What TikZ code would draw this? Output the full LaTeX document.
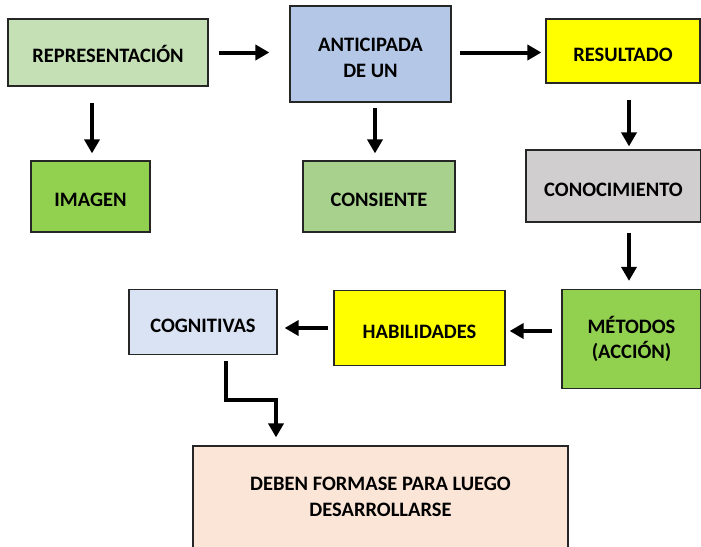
\documentclass[tikz,border=0pt]{standalone}
\usepackage{fontspec}
\setmainfont{Carlito}
\usetikzlibrary{arrows.meta}

\definecolor{verdeclaro}{HTML}{C5E0B4}
\definecolor{azulclaro}{HTML}{B4C7E7}
\definecolor{amarillo}{HTML}{FFFF00}
\definecolor{verde}{HTML}{92D050}
\definecolor{verdemedio}{HTML}{A9D18E}
\definecolor{gris}{HTML}{D0CECE}
\definecolor{azulpalido}{HTML}{DAE3F3}
\definecolor{salmon}{HTML}{FBE5D6}

\begin{document}
\begin{tikzpicture}[x=1pt, y=-1pt,
	caja/.style={draw=black!85, line width=1.2pt, align=center, inner sep=0pt,
		font=\fontsize{20.5}{25.5}\selectfont\bfseries},
	linea/.style={text height=20pt, text depth=0pt},
	flecha/.style={line width=4pt, -{Triangle[length=14pt, width=15pt]}}]

	\path[use as bounding box, clip] (0,0) rectangle (701,546);

	% primera fila
	\node[caja, linea, fill=verdeclaro, minimum width=200, minimum height=67] (rep) at (108, 52.5) {REPRESENTACIÓN};
	\node[caja, fill=azulclaro, minimum width=161, minimum height=96] (ant) at (370.5, 54) {\rule{0pt}{21pt}ANTICIPADA\\DE UN};
	\node[caja, linea, fill=amarillo, minimum width=154, minimum height=64] (res) at (623, 51) {RESULTADO};

	% segunda fila
	\node[caja, linea, fill=verde, minimum width=119, minimum height=71] (img) at (90.5, 196.5) {IMAGEN};
	\node[caja, linea, fill=verdemedio, minimum width=152, minimum height=71] (cons) at (379, 196.5) {CONSIENTE};
	\node[caja, linea, fill=gris, minimum width=175, minimum height=72] (cono) at (613.5, 186) {CONOCIMIENTO};

	% tercera fila
	\node[caja, linea, fill=azulpalido, minimum width=148, minimum height=65] (cog) at (203, 322) {COGNITIVAS};
	\node[caja, linea, fill=amarillo, minimum width=171, minimum height=75] (hab) at (419.5, 328) {HABILIDADES};
	\node[caja, fill=verde, minimum width=139, minimum height=99] (met) at (631.5, 339) {MÉTODOS\\(ACCIÓN)};

	% abajo
	\node[caja, fill=salmon, minimum width=375, minimum height=102] (deb) at (380.5, 497) {DEBEN FORMASE PARA LUEGO\\DESARROLLARSE};

	% flechas
	\draw[flecha, shorten <=10pt, shorten >=20pt] (rep.east) -- (rep.east -| ant.west);
	\draw[flecha, shorten <=8pt, shorten >=4pt] (rep.east -| ant.east) -- (rep.east -| res.west);
	\draw[flecha, shorten <=16pt, shorten >=7pt] ([xshift=1.5pt]img.north |- rep.south) -- ([xshift=1.5pt]img.north);
	\draw[flecha, shorten <=5pt, shorten >=7pt] ([xshift=4.5pt]ant.south) -- ([xshift=4.5pt]ant.south |- cons.north);
	\draw[flecha, shorten <=16pt, shorten >=3pt] ([xshift=6pt]res.south) -- ([xshift=6pt]res.south |- cono.north);
	\draw[flecha, shorten <=10pt, shorten >=8pt] ([xshift=-2.5pt]met.north |- cono.south) -- ([xshift=-2.5pt]met.north);
	\draw[flecha, shorten <=9pt, shorten >=4pt] ([yshift=-3pt]hab.east -| met.west) -- ([yshift=-3pt]hab.east);
	\draw[flecha, shorten <=5pt, shorten >=7pt] (hab.west) -- (hab.west -| cog.east);

	\coordinate (codo) at (276, 400);
	\draw[flecha, shorten >=8pt] ([xshift=23pt, yshift=-6pt]cog.south) |- (codo) -- (codo |- deb.north);

\end{tikzpicture}
\end{document}
